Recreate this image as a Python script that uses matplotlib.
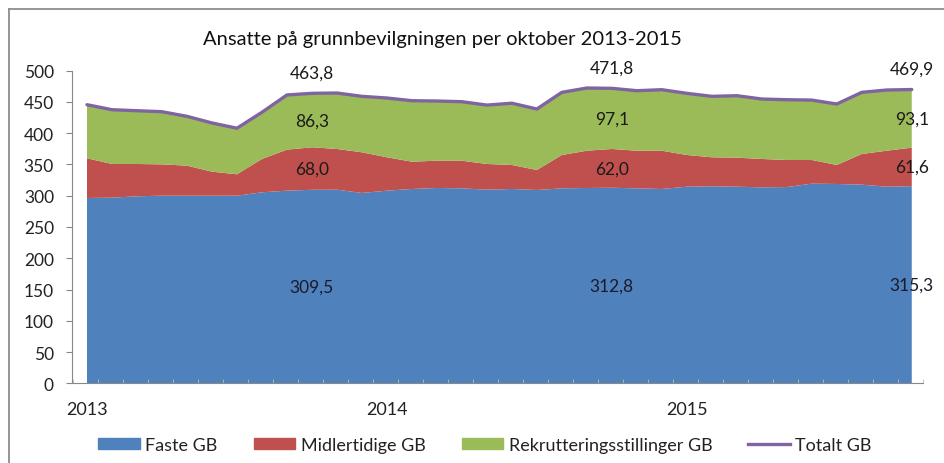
import matplotlib
matplotlib.use("Agg")
import matplotlib.pyplot as plt
from matplotlib.lines import Line2D
from matplotlib.patches import Patch
import numpy as np

plt.rcParams['font.family'] = ['Lato', 'DejaVu Sans']

# Monthly data, Jan 2013 .. Oct 2015
faste = [296.4, 296.9, 299.1, 300.1, 300.1, 300.1, 300.1, 305.5, 308.1, 309.5,
         309.7, 304.4, 308.1, 310.8, 312.4, 311.8, 309.7, 310.8, 309.2, 311.8,
         312.4, 312.8, 311.8, 310.8, 314.5, 315.1, 314.5, 313.4, 313.9, 319.3,
         318.8, 317.7, 314.5, 315.3]
midlertidige = [63.5, 53.9, 51.7, 50.1, 48.0, 38.4, 34.2, 53.3, 65.6, 68.0,
                65.1, 65.1, 53.4, 43.7, 43.6, 44.2, 41.1, 38.4, 32.0, 53.4,
                59.6, 62.0, 60.2, 61.2, 50.7, 46.4, 46.4, 45.4, 43.3, 37.9,
                30.4, 49.1, 57.5, 61.6]
rekruttering = [85.7, 86.8, 85.2, 84.2, 78.9, 77.9, 73.7, 74.7, 87.5, 86.3,
                89.5, 89.5, 94.8, 97.5, 95.5, 94.4, 94.2, 98.8, 97.5, 100.2,
                100.3, 97.1, 96.0, 97.6, 98.6, 97.5, 99.1, 95.9, 96.4, 95.8,
                97.5, 98.6, 97.1, 93.1]
totalt = [445.6, 437.6, 436.0, 434.4, 427.0, 416.4, 408.0, 433.5, 461.2, 463.8,
          464.3, 459.0, 456.3, 452.0, 451.5, 450.4, 445.0, 448.0, 438.7, 465.4,
          472.3, 471.8, 468.0, 469.6, 463.8, 459.0, 460.0, 454.7, 453.6, 453.0,
          446.7, 465.4, 469.1, 469.9]
year_labels = ["2013", "2014", "2015"]
year_pos = [0, 12, 24]
october_idx = [9, 21, 33]
series_names = ["Faste GB", "Midlertidige GB", "Rekrutteringsstillinger GB", "Totalt GB"]
colors = ["#4F81BD", "#C0504D", "#9BBB59", "#8064A2"]

x = np.arange(len(faste))
W, H = 944, 464
fig = plt.figure(figsize=(W / 100, H / 100), dpi=100)
ax = fig.add_axes([72 / W, 1 - 384.3 / H, (923 - 72) / W, (384.3 - 71.7) / H])

ax.stackplot(x, faste, midlertidige, rekruttering, colors=colors[:3], linewidth=0)
ax.plot(x, totalt, color=colors[3], lw=2.4, solid_capstyle='round')

ax.set_xlim(-0.6, 33.45)
ax.set_ylim(0, 500)
ax.set_yticks(np.arange(0, 501, 50))
ax.set_xticks(year_pos)
ax.set_xticklabels(year_labels)
ax.set_xticks(np.arange(-0.55, 33.5, 1), minor=True)
ax.tick_params(axis='x', which='major', length=0, pad=13, labelsize=13, colors='#222222')
ax.tick_params(axis='x', which='minor', direction='in', length=3, color='#BBBBBB')
ax.tick_params(axis='y', which='major', direction='out', length=4, color='#888888',
               labelsize=12.5, labelcolor='#222222', pad=9)
for s in ['top', 'right']:
    ax.spines[s].set_visible(False)
for s in ['left', 'bottom']:
    ax.spines[s].set_color('#888888')
    ax.spines[s].set_linewidth(0.8)

def fmt(v):
    return f"{v:.1f}".replace('.', ',')

f = np.array(faste); m = np.array(midlertidige); r = np.array(rekruttering)
for i in october_idx:
    ax.text(i, f[i] / 2, fmt(f[i]), ha='center', va='center', fontsize=12.5, color='#1a1a2a')
    ax.text(i, f[i] + m[i] / 2, fmt(m[i]), ha='center', va='center', fontsize=12.5, color='#1a1a1a')
    ax.text(i, f[i] + m[i] + r[i] / 2, fmt(r[i]), ha='center', va='center', fontsize=12.5, color='#1a1a1a')
    ax.annotate(fmt(totalt[i]), (i, totalt[i]), xytext=(0, 15), textcoords='offset points',
                ha='center', va='center', fontsize=12.5, color='#1a1a1a')

fig.text(442 / W, 1 - 39 / H, "Ansatte på grunnbevilgningen per oktober 2013-2015",
         ha='center', va='center', fontsize=14.5, color='#111111')

handles = [Patch(color=colors[0]), Patch(color=colors[1]), Patch(color=colors[2]),
           Line2D([], [], color=colors[3], lw=2.4)]
fig.legend(handles, series_names, loc='center', bbox_to_anchor=(485 / W, 1 - 446 / H),
           ncol=4, frameon=False, fontsize=13, handlelength=2.3, handleheight=0.5,
           handletextpad=0.3, columnspacing=2.0, labelcolor='#222222')

# chart frame
fig.add_artist(Line2D([9 / W, 1], [1 - 10 / H, 1 - 10 / H], transform=fig.transFigure,
                      color='#8C8C8C', lw=1.3))
fig.add_artist(Line2D([9 / W, 9 / W], [1 - 10 / H, 0], transform=fig.transFigure,
                      color='#8C8C8C', lw=1.3))

fig.savefig("out.png", dpi=100)
